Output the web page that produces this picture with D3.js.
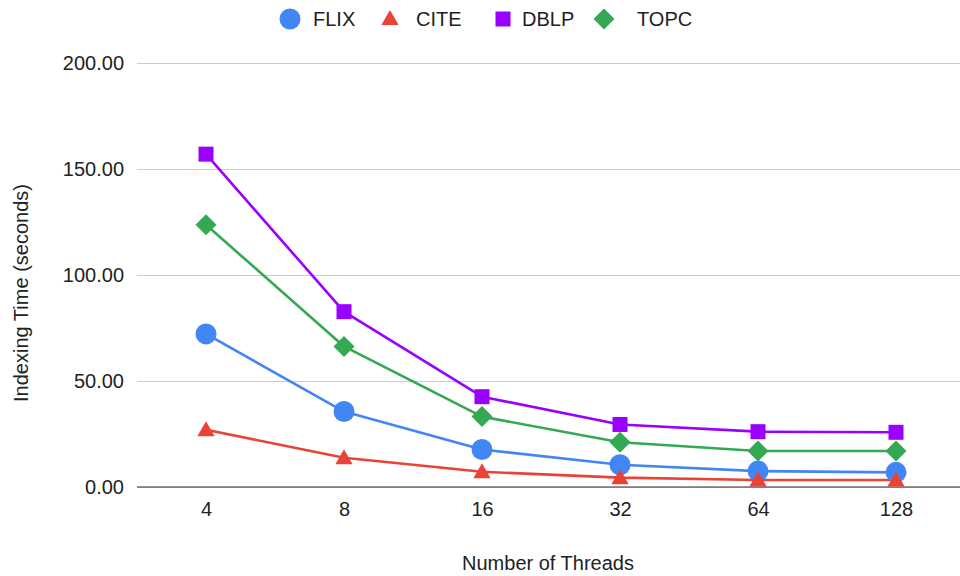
<!DOCTYPE html>
<html>
<head>
<meta charset="utf-8">
<script src="https://cdn.jsdelivr.net/npm/d3@7"></script>
<style>
  html, body { margin: 0; padding: 0; background: #fff; }
  svg { display: block; font-family: "Liberation Sans", Arial, sans-serif; }
</style>
</head>
<body>
<svg id="chart" width="960" height="576"></svg>
<script>
// Thread counts on the x axis
const threads = ["4", "8", "16", "32", "64", "128"];
// Indexing time in seconds per dataset
const flix = [72.2, 35.6, 17.7, 10.5, 7.5, 6.9];
const cite = [27.0, 13.8, 7.2, 4.4, 3.3, 3.3];
const dblp = [157.0, 82.7, 42.6, 29.5, 26.1, 25.8];
const topc = [123.7, 66.3, 33.2, 21.1, 17.0, 17.0];
const yTicks = [0, 50, 100, 150, 200];

const series = [
  { name: "FLIX", values: flix, color: "#4285F4", shape: "circle" },
  { name: "CITE", values: cite, color: "#EA4335", shape: "triangle" },
  { name: "DBLP", values: dblp, color: "#9900FF", shape: "square" },
  { name: "TOPC", values: topc, color: "#34A853", shape: "diamond" }
];

const FONT = "Liberation Sans, Arial, sans-serif";
const svg = d3.select("#chart");
const plot = { left: 137, right: 965, top: 63, bottom: 487 };

const x = d3.scalePoint().domain(threads).range([plot.left, plot.right]).padding(0.5);
const y = d3.scaleLinear().domain([0, 200]).range([plot.bottom, plot.top]);

// Horizontal gridlines with value labels
const yAxis = d3.axisLeft(y).tickValues(yTicks)
  .tickSize(-(plot.right - plot.left)).tickPadding(13)
  .tickFormat(d3.format(".2f"));
const gy = svg.append("g").attr("transform", `translate(${plot.left},0)`).call(yAxis);
gy.select(".domain").remove();
gy.selectAll(".tick line").attr("stroke", "#cccccc").attr("stroke-width", 1);
gy.selectAll(".tick text").attr("fill", "#222").attr("font-size", 20)
  .attr("font-family", FONT);

// Baseline
svg.append("line")
  .attr("x1", plot.left).attr("x2", plot.right)
  .attr("y1", y(0)).attr("y2", y(0))
  .attr("stroke", "#333").attr("stroke-width", 1.2);

// X axis labels
const xAxis = d3.axisBottom(x).tickSize(0).tickPadding(15);
const gx = svg.append("g").attr("transform", `translate(0,${plot.bottom})`).call(xAxis);
gx.select(".domain").remove();
gx.selectAll(".tick text").attr("fill", "#222").attr("font-size", 20)
  .attr("font-family", FONT);

// Axis titles
svg.append("text")
  .attr("x", 548).attr("y", 570)
  .attr("text-anchor", "middle").attr("font-size", 20).attr("fill", "#222")
  .text("Number of Threads");
svg.append("text")
  .attr("transform", `translate(28,${293}) rotate(-90)`)
  .attr("text-anchor", "middle").attr("font-size", 20).attr("fill", "#222")
  .text("Indexing Time (seconds)");

const symbolFor = {
  circle: d3.symbol().type(d3.symbolCircle).size(Math.PI * 10.5 * 10.5),
  triangle: d3.symbol().type(d3.symbolTriangle).size(130),
  square: d3.symbol().type(d3.symbolSquare).size(15 * 15)
};
function markerPath(shape) {
  if (shape === "diamond") {
    const r = 10.5;
    return `M0,${-r}L${r},0L0,${r}L${-r},0Z`;
  }
  return symbolFor[shape]();
}

const line = d3.line().x((d, i) => x(threads[i])).y(d => y(d));

series.forEach(s => {
  svg.append("path")
    .datum(s.values)
    .attr("fill", "none")
    .attr("stroke", s.color)
    .attr("stroke-width", 2.6)
    .attr("stroke-linejoin", "round")
    .attr("d", line);
});
series.forEach(s => {
  svg.append("g").selectAll("path")
    .data(s.values)
    .join("path")
    .attr("transform", (d, i) => `translate(${x(threads[i])},${y(d) + (s.shape === "triangle" ? 1.5 : 0)})`)
    .attr("d", markerPath(s.shape))
    .attr("fill", s.color);
});

// Legend
const legendItems = [
  { s: series[0], mx: 290, tx: 313 },
  { s: series[1], mx: 390, tx: 416 },
  { s: series[2], mx: 503, tx: 522 },
  { s: series[3], mx: 604, tx: 637 }
];
const lg = svg.append("g");
legendItems.forEach(it => {
  lg.append("path")
    .attr("transform", `translate(${it.mx},${19 + (it.s.shape === "triangle" ? 1 : 0)})`)
    .attr("d", markerPath(it.s.shape))
    .attr("fill", it.s.color);
  lg.append("text")
    .attr("x", it.tx).attr("y", 26)
    .attr("font-size", 20).attr("fill", "#222")
    .text(it.s.name);
});
</script>
</body>
</html>
